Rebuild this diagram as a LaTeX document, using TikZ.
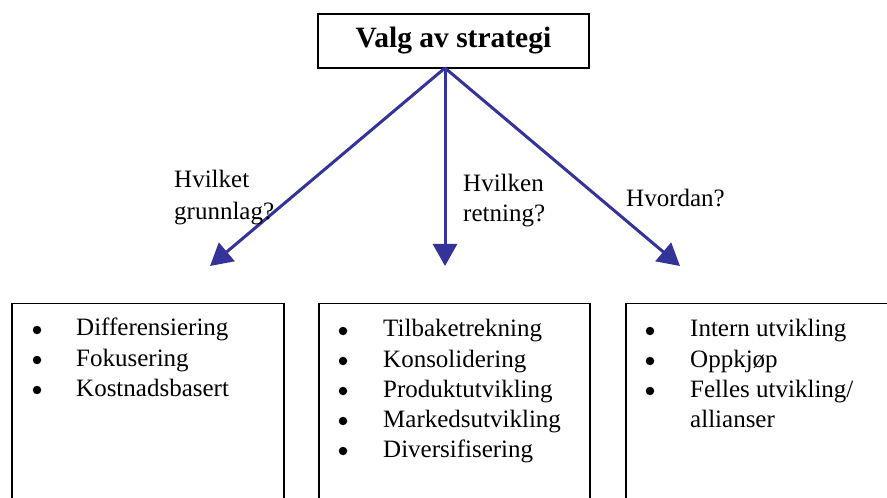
\documentclass[tikz,border=0pt]{standalone}
\usepackage{fontspec}
\setmainfont{Liberation Serif}
\usetikzlibrary{arrows.meta}
\definecolor{arrowblue}{RGB}{51,51,153}
\begin{document}
\begin{tikzpicture}[x=1bp,y=-1bp,
  box/.style={draw,line width=1.5bp,inner sep=0,anchor=north west},
  conn/.style={draw=arrowblue,line width=3bp,-{Triangle[length=22bp,width=24bp]}},
  txt/.style={anchor=base west,inner sep=0,font=\fontsize{25bp}{30bp}\selectfont},
  bullet/.style={circle,fill,inner sep=0,minimum size=8.5bp}]
\useasboundingbox (0,0) rectangle (887,498);
\clip (0,0) rectangle (887,498);
% top box
\node[draw,line width=1.5bp,inner sep=0,minimum width=271bp,minimum height=54bp,
  font=\fontsize{29.5bp}{32bp}\selectfont\bfseries] (top) at (453.5,41) {Valg av strategi};
\coordinate (src) at (445,68);
\coordinate (tipL) at (210,266);
\coordinate (tipM) at (445,266);
\coordinate (tipR) at (680,266);
\draw[conn] (src) -- (tipL);
\draw[conn] (src) -- (tipM);
\draw[conn] (src) -- (tipR);
% question labels
\node[txt] (q1a) at (174,188) {Hvilket};
\node[txt] (q1b) at (174,220) {grunnlag?};
\node[txt] (q2a) at (463,192) {Hvilken};
\node[txt] (q2b) at (463,222) {retning?};
\node[txt] (q3) at (626,207) {Hvordan?};
% bottom boxes
\node[box,minimum width=272bp,minimum height=220bp] (b1) at (11,303) {};
\node[box,minimum width=271bp,minimum height=220bp] (b2) at (318,303) {};
\node[box,minimum width=300bp,minimum height=220bp] (b3) at (625,303) {};
% left list
\node[bullet] (l1b) at (37,330) {};
\node[txt] (l1) at (76,336) {Differensiering};
\node[bullet] (l2b) at (37,360) {};
\node[txt] (l2) at (76,366) {Fokusering};
\node[bullet] (l3b) at (37,390) {};
\node[txt] (l3) at (76,396) {Kostnadsbasert};
% middle list
\node[bullet] (m1b) at (343,331) {};
\node[txt] (m1) at (383,337) {Tilbaketrekning};
\node[bullet] (m2b) at (343,361) {};
\node[txt] (m2) at (383,367) {Konsolidering};
\node[bullet] (m3b) at (343,391) {};
\node[txt] (m3) at (383,397) {Produktutvikling};
\node[bullet] (m4b) at (343,421) {};
\node[txt] (m4) at (383,427) {Markedsutvikling};
\node[bullet] (m5b) at (343,451) {};
\node[txt] (m5) at (383,457) {Diversifisering};
% right list
\node[bullet] (r1b) at (650,331) {};
\node[txt] (r1) at (690,337) {Intern utvikling};
\node[bullet] (r2b) at (650,361) {};
\node[txt] (r2) at (690,367) {Oppkjøp};
\node[bullet] (r3b) at (650,391) {};
\node[txt] (r3) at (690,397) {Felles utvikling/};
\node[txt] (r4) at (690,427) {allianser};
\end{tikzpicture}
\end{document}
